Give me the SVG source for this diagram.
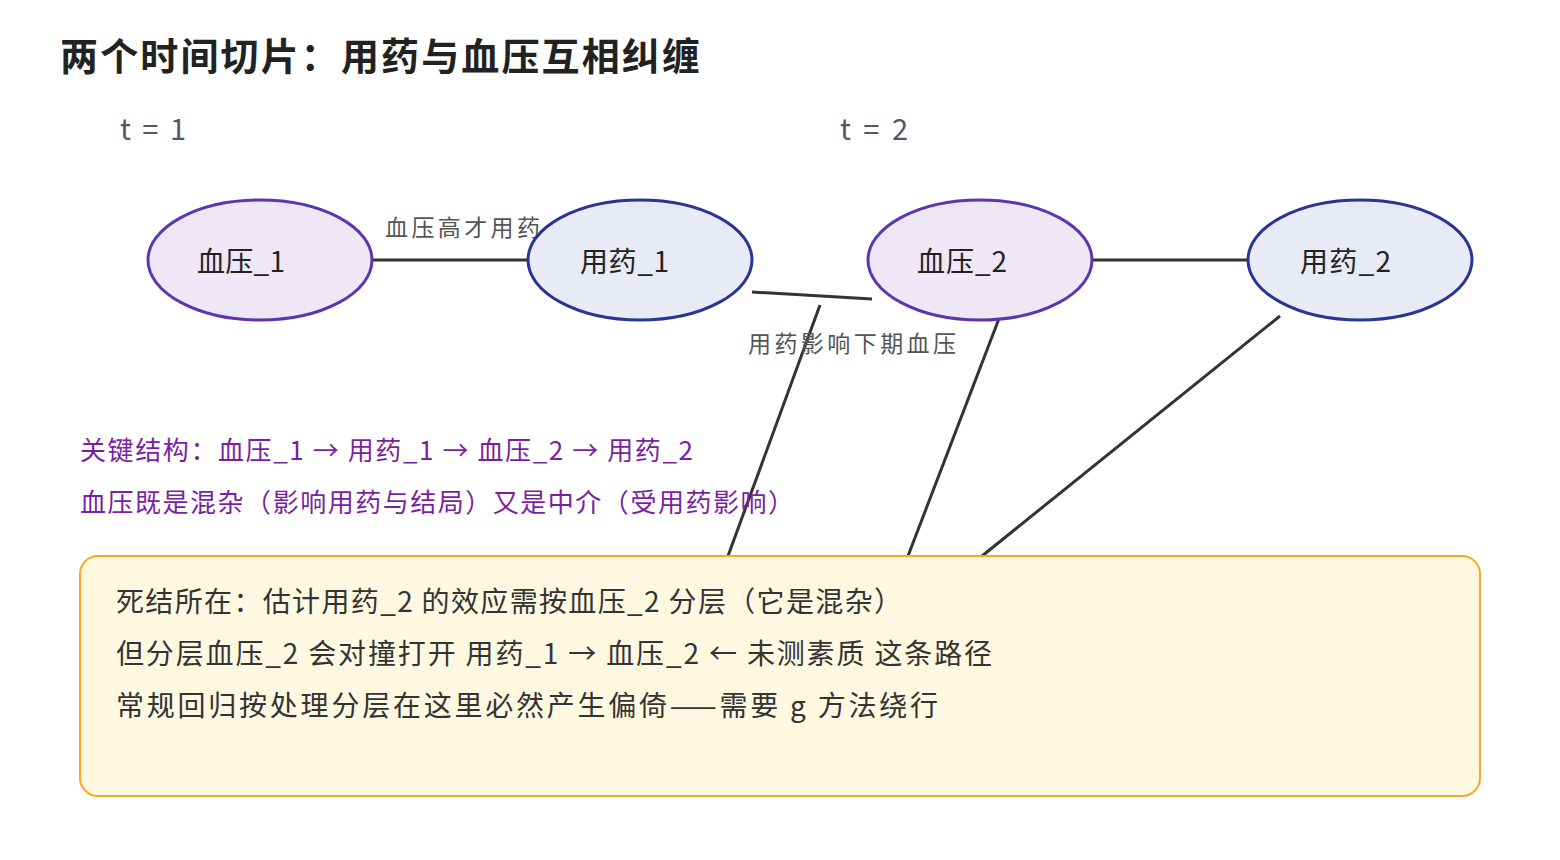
<svg xmlns="http://www.w3.org/2000/svg" width="1560" height="860" viewBox="0 0 1560 860">
<style>
text{font-family:"Noto Sans CJK SC","Noto Sans",sans-serif}
.bp{fill:#ede7f6;stroke:#5e35b1;stroke-width:3}
.dr{fill:#e8eaf6;stroke:#283593;stroke-width:3}
.nl{font-size:28px;fill:#222}
.e{stroke:#333;stroke-width:3;fill:none}
.lab{font-size:23px;fill:#555}
.pur{font-size:26px;fill:#7b1fa2}
.box{font-size:28px;fill:#333}
.t{font-size:29px;fill:#556}
</style>
<rect width="1560" height="860" fill="#fff"/>
<text x="60" y="70" font-size="38" font-weight="bold" fill="#222" textLength="640" lengthAdjust="spacing">两个时间切片：用药与血压互相纠缠</text>
<text class="t" x="120" y="140" textLength="66" lengthAdjust="spacing">t = 1</text>
<text class="t" x="840" y="140" textLength="68" lengthAdjust="spacing">t = 2</text>
<g id="edges">
<line class="e" x1="372" y1="260" x2="528" y2="260"/>
<line class="e" x1="752" y1="292" x2="872" y2="299"/>
<line class="e" x1="1092" y1="260" x2="1248" y2="260"/>
<line class="e" x1="820" y1="305" x2="728" y2="556"/>
<line class="e" x1="1000" y1="316" x2="908" y2="556"/>
<line class="e" x1="1280" y1="316" x2="982" y2="556"/>
<text class="lab" x="385" y="236" textLength="155" lengthAdjust="spacing">血压高才用药</text>
<text class="lab" x="748" y="352" textLength="208" lengthAdjust="spacing">用药影响下期血压</text>
</g>
<g id="bp1"><ellipse class="bp" cx="260" cy="260" rx="112" ry="60"/><text class="nl" x="197" y="272" textLength="88" lengthAdjust="spacing">血压_1</text></g>
<g id="drug1"><ellipse class="dr" cx="640" cy="260" rx="112" ry="60"/><text class="nl" x="580" y="272" textLength="89" lengthAdjust="spacing">用药_1</text></g>
<g id="bp2"><ellipse class="bp" cx="980" cy="260" rx="112" ry="60"/><text class="nl" x="917" y="272" textLength="90" lengthAdjust="spacing">血压_2</text></g>
<g id="drug2"><ellipse class="dr" cx="1360" cy="260" rx="112" ry="60"/><text class="nl" x="1300" y="272" textLength="91" lengthAdjust="spacing">用药_2</text></g>
<text class="pur" x="80" y="460" textLength="613" lengthAdjust="spacing">关键结构：血压_1 → 用药_1 → 血压_2 → 用药_2</text>
<text class="pur" x="80" y="512" textLength="714" lengthAdjust="spacing">血压既是混杂（影响用药与结局）又是中介（受用药影响）</text>
<g id="note">
<rect x="80" y="556" width="1400" height="240" rx="18" fill="#fff8e1" stroke="#f9a825" stroke-width="2"/>
<text class="box" x="116" y="612" textLength="786" lengthAdjust="spacing">死结所在：估计用药_2 的效应需按血压_2 分层（它是混杂）</text>
<text class="box" x="116" y="664" textLength="876" lengthAdjust="spacing">但分层血压_2 会对撞打开 用药_1 → 血压_2 ← 未测素质 这条路径</text>
<text class="box" x="116" y="716" textLength="822" lengthAdjust="spacing">常规回归按处理分层在这里必然产生偏倚——需要 g 方法绕行</text>
</g>
</svg>
